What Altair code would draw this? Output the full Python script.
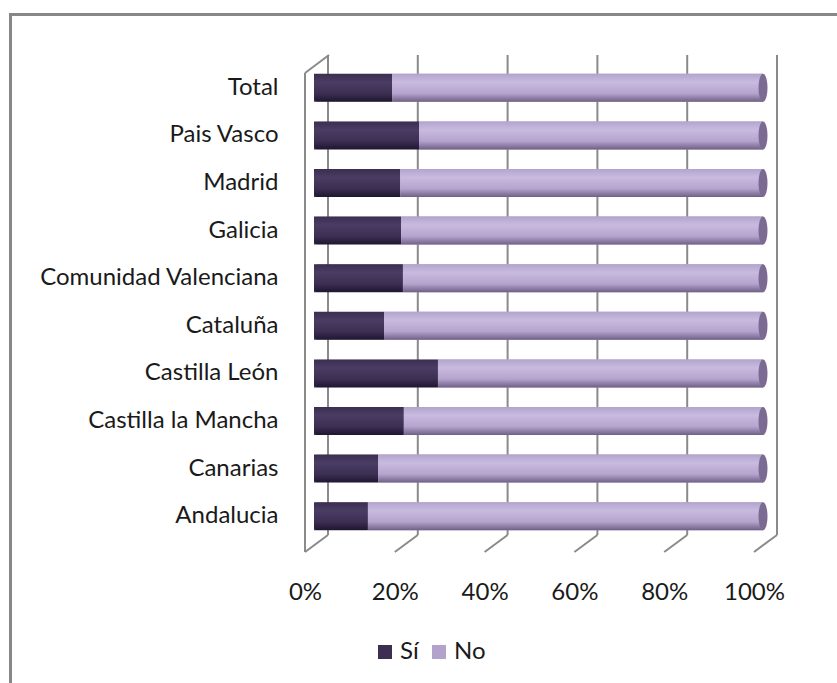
import altair as alt
import pandas as pd

# ---- data ----
regiones = ["Total", "Pais Vasco", "Madrid", "Galicia", "Comunidad Valenciana",
            "Cataluña", "Castilla León", "Castilla la Mancha", "Canarias", "Andalucia"]
si = [17.4, 23.4, 19.2, 19.4, 19.8, 15.6, 27.6, 20.0, 14.3, 12.0]
series = ["Sí", "No"]
ticks = [0, 20, 40, 60, 80, 100]

no = [round(100 - v, 1) for v in si]
n = len(regiones)
wide = pd.DataFrame({"region": regiones, "si": si, "total": [100] * n})
long = pd.DataFrame({
    "region": regiones * 2,
    "serie": ["Sí"] * n + ["No"] * n,
    "valor": si + no,
    "orden": [0] * n + [1] * n,
})
tick_df = pd.DataFrame({"t": ticks})
one = pd.DataFrame({"a": [0]})

# ---- layout / style ----
FONT = "Lato"
FS = 24
W, H = 449, 476
PL, PT = 314, 64
GRID = "#8a8a8a"
TXT = "#1a1a1a"

xs = alt.Scale(domain=[0, 100], nice=False, zero=True)
ys = alt.Scale(domain=regiones, paddingInner=0.412, paddingOuter=0.206)

grad_si = {"gradient": "linear", "x1": 0, "x2": 0, "y1": 0, "y2": 1,
           "stops": [{"offset": 0, "color": "#3b2e50"},
                     {"offset": 0.3, "color": "#4a3c63"},
                     {"offset": 0.7, "color": "#3c2f53"},
                     {"offset": 1, "color": "#1e1630"}]}
grad_no = {"gradient": "linear", "x1": 0, "x2": 0, "y1": 0, "y2": 1,
           "stops": [{"offset": 0, "color": "#b4a4cc"},
                     {"offset": 0.3, "color": "#c9bae0"},
                     {"offset": 0.7, "color": "#b5a4ce"},
                     {"offset": 1, "color": "#6f6086"}]}

ellipse = ("M 0 -1 C 0.177 -1 0.32 -0.552 0.32 0 C 0.32 0.552 0.177 1 0 1 "
           "C -0.177 1 -0.32 0.552 -0.32 0 C -0.32 -0.552 -0.177 -1 0 -1 Z")

# outer frame (left + top edges)
frame_l = alt.Chart(one).mark_rule(color="#878787", strokeWidth=3).encode(
    x=alt.value(10.5 - PL), y=alt.value(13 - PT), y2=alt.value(683 - PT))
frame_t = alt.Chart(one).mark_rule(color="#878787", strokeWidth=3).encode(
    x=alt.value(9 - PL), x2=alt.value(837 - PL), y=alt.value(14.5 - PT))

# back-wall gridlines, floor ticks, left wall
grid = alt.Chart(tick_df).mark_rule(color=GRID, strokeWidth=2, xOffset=14).encode(
    x=alt.X("t:Q", scale=xs, axis=alt.Axis(title=None)),
    y=alt.value(-9), y2=alt.value(471))
floor = alt.Chart(tick_df).mark_rule(color=GRID, strokeWidth=2, xOffset=-9, x2Offset=14).encode(
    x=alt.X("t:Q", scale=xs, axis=alt.Axis(title=None)), x2=alt.X2("t:Q"),
    y=alt.value(488), y2=alt.value(471))
wall_v = alt.Chart(one).mark_rule(color=GRID, strokeWidth=2).encode(
    x=alt.value(-9), y=alt.value(9), y2=alt.value(488))
wall_t = alt.Chart(one).mark_rule(color=GRID, strokeWidth=2).encode(
    x=alt.value(-9), x2=alt.value(15), y=alt.value(9), y2=alt.value(-9))

# base stacked bars (carry axes + legend)
base = alt.Chart(long).mark_bar().encode(
    y=alt.Y("region:N", scale=ys,
            axis=alt.Axis(title=None, ticks=False, domain=False, labelPadding=36,
                          labelFontSize=FS, labelFont=FONT, labelColor=TXT, labelLimit=400)),
    x=alt.X("valor:Q", stack="zero", scale=xs,
            axis=alt.Axis(values=ticks, title=None, grid=False, ticks=False, domain=False,
                          labelExpr="datum.value + '%'", labelOffset=-9, labelPadding=40,
                          labelFlush=False, labelOverlap=False,
                          labelFontSize=FS, labelFont=FONT, labelColor=TXT)),
    color=alt.Color("serie:N", scale=alt.Scale(domain=series, range=["#3d2f52", "#b3a2cc"]),
                    legend=alt.Legend(title=None, orient="none", legendX=59, legendY=576,
                                      direction="horizontal", symbolType="square",
                                      symbolSize=196, symbolStrokeWidth=0,
                                      labelFontSize=FS, labelFont=FONT, labelColor=TXT,
                                      labelOffset=3, columnPadding=8, padding=0)),
    order=alt.Order("orden:Q"),
)

# cylinder shading overlays
si_bar = alt.Chart(wide).mark_bar(color=grad_si, cornerRadiusTopLeft=4,
                                  cornerRadiusBottomLeft=4).encode(
    y=alt.Y("region:N", scale=ys, axis=alt.Axis(title=None)),
    x=alt.X("si:Q", scale=xs, axis=alt.Axis(title=None)))
no_bar = alt.Chart(wide).mark_bar(color=grad_no).encode(
    y=alt.Y("region:N", scale=ys, axis=alt.Axis(title=None)),
    x=alt.X("si:Q", scale=xs, axis=alt.Axis(title=None)), x2=alt.X2("total:Q"))
cap = alt.Chart(wide).mark_point(shape=ellipse, size=784, filled=True, opacity=1,
                                 color="#7b6b93", strokeWidth=0).encode(
    y=alt.Y("region:N", scale=ys, axis=alt.Axis(title=None)),
    x=alt.X("total:Q", scale=xs, axis=alt.Axis(title=None)))

chart = alt.layer(frame_l, frame_t, grid, floor, wall_v, wall_t, base, si_bar, no_bar, cap).properties(
    width=W, height=H,
    autosize=alt.AutoSizeParams(type="none"),
    padding={"left": PL, "top": PT, "right": 837 - PL - W, "bottom": 683 - PT - H},
    background="white",
).configure_view(stroke=None)

chart.save("out.html", embed_options={"renderer": "svg", "actions": False})
